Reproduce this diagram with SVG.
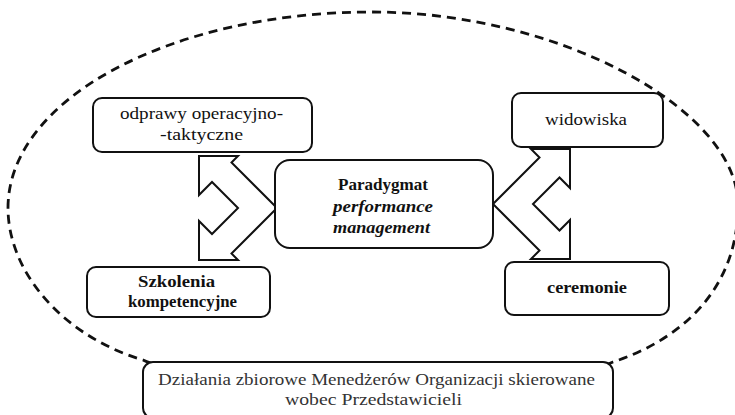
<svg xmlns="http://www.w3.org/2000/svg" width="735" height="415" viewBox="0 0 735 415">
  <style>
    .bg { fill: #ffffff; }
    .scope { fill: none; stroke: #111; stroke-width: 2.8; stroke-dasharray: 9 6; }
    .box { fill: #ffffff; stroke: #111; stroke-width: 2; }
    .arrow { fill: #ffffff; stroke: #111; stroke-width: 2; stroke-linejoin: miter; }
    text { font-family: Liberation Serif, DejaVu Serif, Noto Serif, Times New Roman, serif; font-size: 16px; fill: #111; text-anchor: middle; }
    .b { font-weight: bold; }
    .i { font-style: italic; }
    .note { fill: #333; }
  </style>

  <rect class="bg" x="0" y="0" width="735" height="415"/>

  <!-- dashed scope outline around all activities -->
  <path class="scope" d="M8,208 C8,99 171,12 372,12 C560,12 738,110 738,205 C738,290 680,340 613,362 C560,388 200,388 143,360 C60,335 8,270 8,208 Z"/>

  <!-- double chevron arrows from the central paradigm -->
  <g id="connectors">
    <path class="arrow" d="M277,208 L231.5,162.5 L238,156 L199,156 L199,195 L212,182 L238,208 L212,234 L199,221 L199,260 L238,260 L231.5,253.5 Z"/>
    <path class="arrow" d="M493,204 L539.5,157.5 L531,149 L570,149 L570,188 L559.5,177.5 L533,204 L559.5,230.5 L570,220 L570,259 L531,259 L539.5,250.5 Z"/>
  </g>

  <g id="odprawy">
    <rect class="box" x="93" y="98" width="219" height="54" rx="9"/>
    <text x="201.5" y="119" textLength="163" lengthAdjust="spacingAndGlyphs">odprawy operacyjno-</text>
    <text x="201.5" y="140" textLength="83" lengthAdjust="spacingAndGlyphs">-taktyczne</text>
  </g>

  <g id="widowiska">
    <rect class="box" x="512" y="93" width="151" height="54" rx="9"/>
    <text x="586" y="125" textLength="82" lengthAdjust="spacingAndGlyphs">widowiska</text>
  </g>

  <g id="paradygmat">
    <rect class="box" x="275" y="160" width="218" height="88" rx="15"/>
    <text class="b" x="383" y="190" textLength="90" lengthAdjust="spacingAndGlyphs">Paradygmat</text>
    <text class="b i" x="383" y="212" textLength="100" lengthAdjust="spacingAndGlyphs">performance</text>
    <text class="b i" x="381.5" y="233" textLength="97" lengthAdjust="spacingAndGlyphs">management</text>
  </g>

  <g id="szkolenia">
    <rect class="box" x="87" y="267" width="183" height="50" rx="9"/>
    <text class="b" x="176.5" y="287" textLength="77" lengthAdjust="spacingAndGlyphs">Szkolenia</text>
    <text class="b" x="182.5" y="307" textLength="109" lengthAdjust="spacingAndGlyphs">kompetencyjne</text>
  </g>

  <g id="ceremonie">
    <rect class="box" x="505" y="262" width="164" height="53" rx="9"/>
    <text class="b" x="587" y="293" textLength="80" lengthAdjust="spacingAndGlyphs">ceremonie</text>
  </g>

  <g id="dzialania">
    <rect class="box" x="143" y="362" width="470" height="56" rx="10"/>
    <text class="note" x="376.5" y="385" textLength="437" lengthAdjust="spacingAndGlyphs">Działania zbiorowe Menedżerów Organizacji skierowane</text>
    <text class="note" x="373.5" y="405" textLength="177" lengthAdjust="spacingAndGlyphs">wobec Przedstawicieli</text>
  </g>
</svg>
